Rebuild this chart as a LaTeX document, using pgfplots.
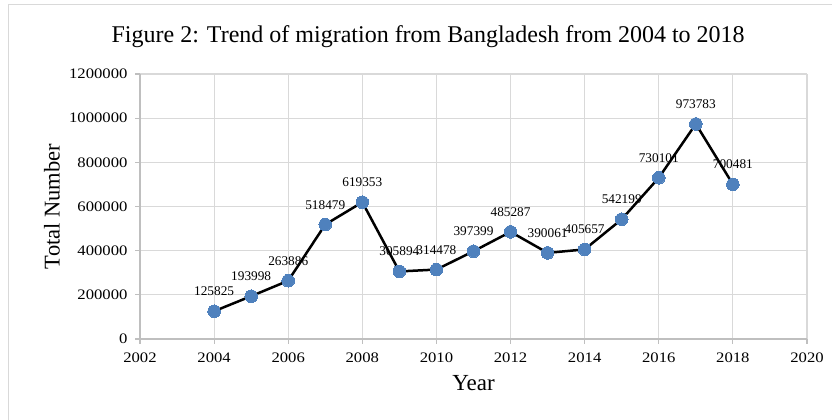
\documentclass[border=0pt]{standalone}
\usepackage{pgfplots}
\pgfplotsset{compat=1.18}
\usepackage{fontspec}
\setmainfont{Liberation Serif}
\newfontfamily\tickfont{Liberation Serif}[FakeStretch=1.15]
\definecolor{gridgray}{HTML}{D9D9D9}
\definecolor{axgray}{HTML}{BFBFBF}
\definecolor{mkblue}{HTML}{4F81BD}
\begin{document}
\begin{tikzpicture}
\path[use as bounding box] (0pt,0pt) rectangle (832pt,420pt);
\draw[gridgray, line width=1pt] (8pt,0pt) -- (8pt,415pt) -- (832pt,415pt);
\begin{axis}[
  at={(140pt,81pt)}, anchor=south west,
  scale only axis, width=667pt, height=265pt,
  xmin=2002, xmax=2020, ymin=0, ymax=1200000,
  xtick={2002,2004,...,2020},
  ytick={0,200000,...,1200000},
  /pgf/number format/assume math mode=true,
  xticklabel={\pgfmathprintnumber[1000 sep={},fixed]{\tick}},
  yticklabel={\pgfmathprintnumber[1000 sep={},fixed,precision=0]{\tick}},
  scaled y ticks=false,
  grid=major,
  major grid style={gridgray, line width=1.2pt},
  axis line style={axgray, line width=1.2pt},
  axis x line*=bottom, axis y line*=left,
  tick style={axgray, line width=1.2pt},
  tick align=outside, major tick length=5pt,
  xtick pos=bottom, ytick pos=left,
  ticklabel style={font=\tickfont\fontsize{14.5}{14.5}\selectfont, text=black},
  yticklabel style={xshift=-4pt},
  xticklabel style={yshift=-5pt},
  every axis title shift=0pt,
  title={Figure 2: Trend of migration from Bangladesh from 2004 to 2018},
  title style={font=\fontsize{24}{24}\selectfont, at={(axis description cs:0.432,1.14)}, anchor=center},
  xlabel={Year},
  xlabel style={font=\fontsize{23}{23}\selectfont, at={(axis description cs:0.5,-0.166)}, anchor=center},
  ylabel={Total Number},
  ylabel style={font=\fontsize{22.5}{22.5}\selectfont, at={(axis description cs:-0.132,0.5)}, anchor=center, rotate=0},
  clip=false,
]
\addplot[black, line width=2.5pt, mark=*, mark size=6.3pt,
  mark options={fill=mkblue, draw=mkblue, line width=0pt},
  point meta=explicit symbolic,
  nodes near coords,
  nodes near coords style={font=\fontsize{13.3}{13.3}\selectfont, text=black, anchor=south, yshift=12pt},
] table[x=x, y=y, meta=lab] {
x y lab
2004 125825 125825
2005 193998 193998
2006 263886 263886
2007 518479 518479
2008 619353 619353
2009 305894 305894
2010 314478 314478
2011 397399 397399
2012 485287 485287
2013 390061 390061
2014 405657 405657
2015 542199 542199
2016 730101 730101
2017 973783 973783
2018 700481 700481
};
\end{axis}
\end{tikzpicture}
\end{document}
